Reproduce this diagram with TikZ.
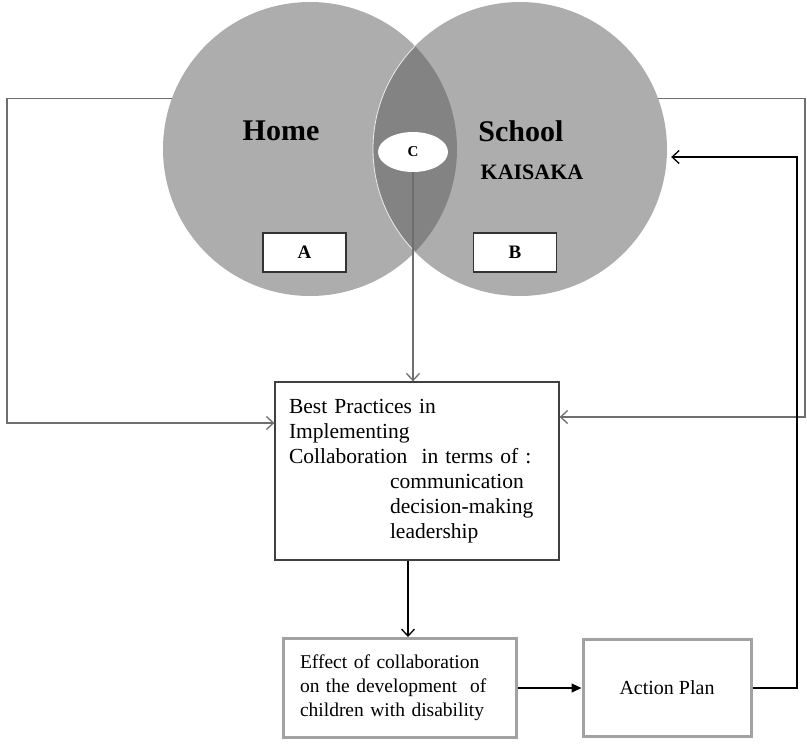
\documentclass[tikz,border=0pt]{standalone}
\usepackage{fontspec}
\setmainfont{Liberation Serif}
\usepackage{tikz}
\usetikzlibrary{shapes.geometric, arrows.meta}
\definecolor{circgray}{HTML}{ADADAD}
\definecolor{lensgray}{HTML}{838383}
\definecolor{linegray}{HTML}{6E6E6E}
\definecolor{boxgray}{HTML}{A2A2A2}

\begin{document}
\begin{tikzpicture}[%
x=1pt, y=-1pt,
circ/.style={circle, fill=circgray, minimum size=294pt, inner sep=0pt},
title/.style={font=\bfseries\fontsize{30}{34}\selectfont},
letterbox/.style={draw=black!80, line width=1.3pt, fill=white, minimum width=83pt, minimum height=39pt, font=\bfseries\fontsize{19}{22}\selectfont},
mainbox/.style={draw=black!75, line width=1.3pt, align=left, inner xsep=14pt},
greybox/.style={draw=boxgray, line width=3pt, align=left},
feed/.style={draw=linegray, line width=1.3pt, -{Straight Barb[length=7pt,width=13pt]}},
flow/.style={draw=black, line width=1.3pt}]
\useasboundingbox (0,0) rectangle (807,745);

\node[circ] (home) at (310,149) {};
\node[circ] (school) at (520,149) {};
\begin{scope}
\clip (home.center) circle[radius=147pt];
\fill[lensgray, draw=white!85!gray, line width=0.8pt] (school.center) circle[radius=147pt];
\end{scope}

\node[title] (homelabel) at (281,131) {Home};
\node[title] (schoollabel) at (521,131) {School};
\node[font=\bfseries\fontsize{22}{26}\selectfont] (kaisaka) at (532,172) {KAISAKA};
\node[ellipse, fill=white, minimum width=70pt, minimum height=40pt, inner sep=0pt,
  font=\bfseries\fontsize{15}{18}\selectfont] (cnode) at (413,152) {C};
\node[letterbox] (boxA) at (304.5,252.5) {A};
\node[letterbox] (boxB) at (515,252.5) {B};

\node[mainbox, text width=256pt, minimum height=178pt, font=\fontsize{21.5}{25}\selectfont]
  (best) at (417,471) {Best Practices in\\
Implementing\\
Collaboration\ \ in terms of :\\
\hspace*{101pt}communication\\
\hspace*{101pt}decision-making\\
\hspace*{101pt}leadership};
\node[greybox, text width=199pt, inner xsep=17pt, minimum height=99pt,
  font=\fontsize{19.5}{24}\selectfont] (effect) at (399.5,688) {Effect of collaboration\\
on the development\ \ of\\
children with disability};
\node[greybox, minimum width=168pt, minimum height=97pt, align=center,
  font=\fontsize{20}{24}\selectfont] (action) at (667,688) {Action Plan};

\coordinate (lb) at (7,423);
\coordinate (rb) at (805,417);
\coordinate (rs) at (797,157);

\draw[feed] (home.160) -| (lb) -- (lb -| best.west);
\draw[feed] (school.20) -| (rb) -- (rb -| best.east);
\draw[feed] (cnode.south) -- (cnode.south |- best.north);
\draw[flow, -{Straight Barb[length=7pt,width=13pt]}] ([xshift=-9pt]best.south) -- ([xshift=-9pt]best.south |- effect.north);
\draw[flow, -{Triangle[length=10pt,width=9pt]}] (effect.east) -- (action.west);
\draw[flow, -{Straight Barb[length=7pt,width=13pt]}, shorten >=4pt] (action.east) -| (rs) -- (rs -| school.east);
\end{tikzpicture}
\end{document}
